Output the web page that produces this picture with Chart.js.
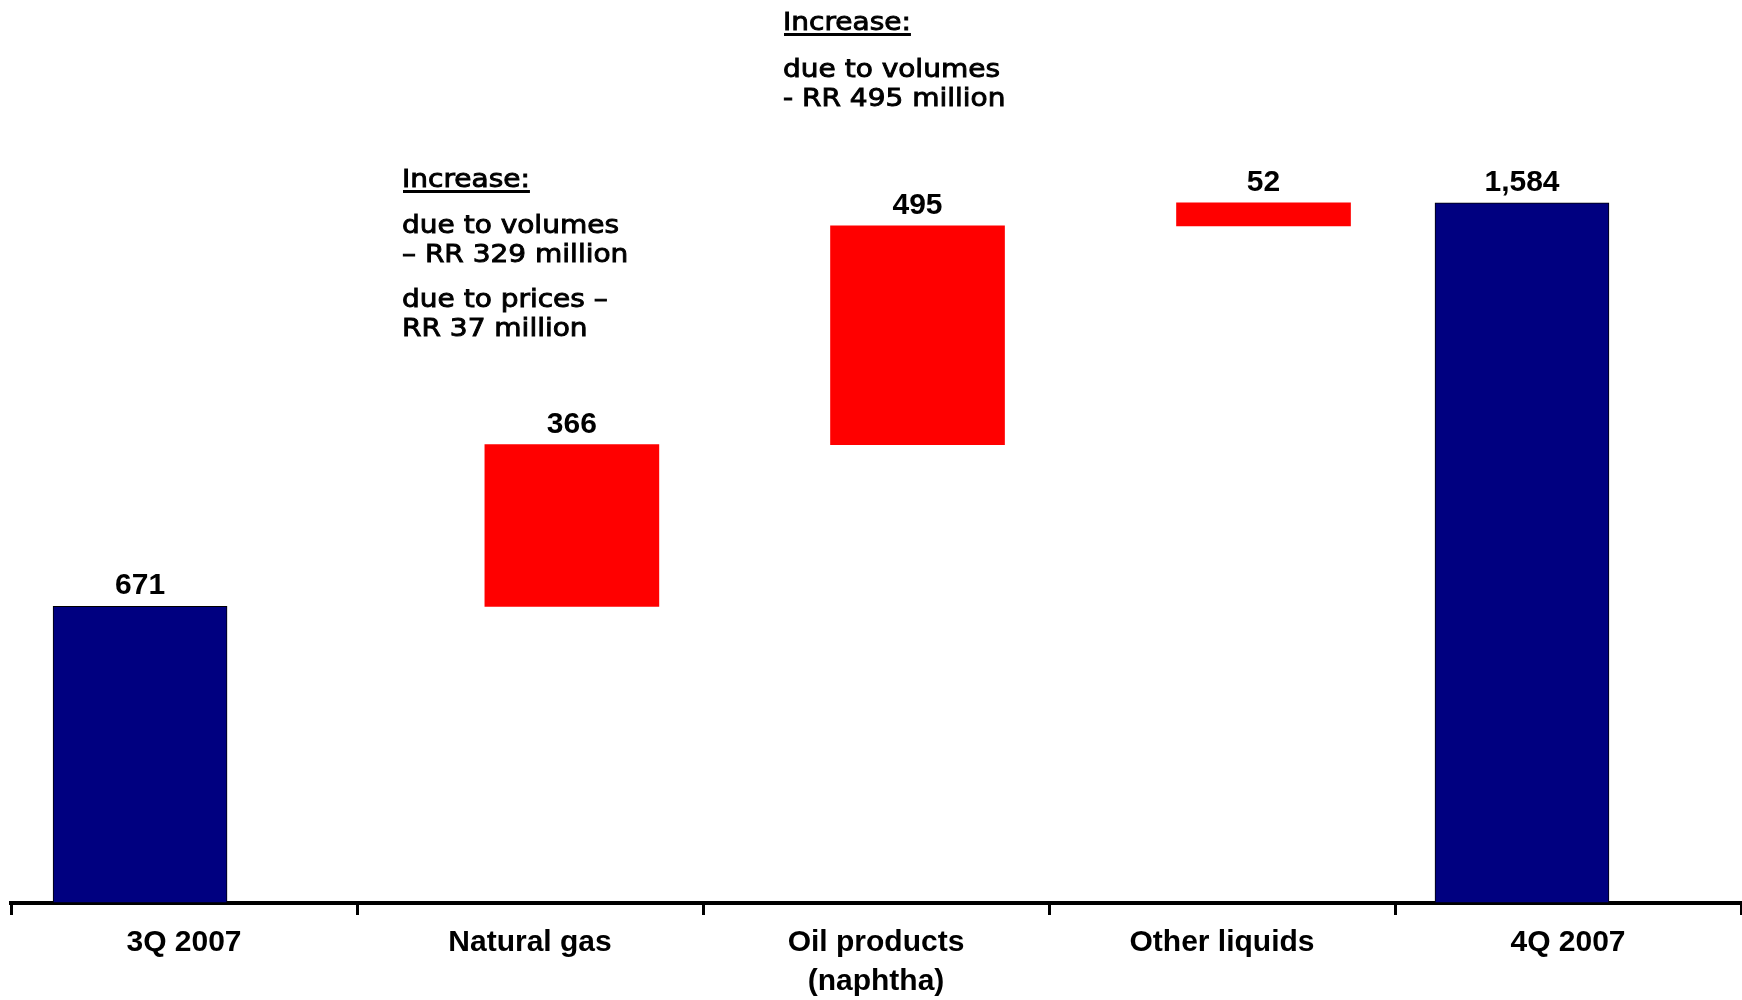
<!DOCTYPE html>
<html>
<head>
<meta charset="utf-8">
<title>Revenue bridge 3Q 2007 – 4Q 2007</title>
<script src="https://cdn.jsdelivr.net/npm/chart.js@4.4.1/dist/chart.umd.min.js"></script>
<style>
  html, body { margin: 0; padding: 0; background: #fff; }
  #wrap { width: 1742px; height: 1000px; position: relative; }
</style>
</head>
<body>
<div id="wrap"><canvas id="bridge"></canvas></div>
<script>
// categories along the bottom axis
const categories = ['3Q 2007', 'Natural gas', ['Oil products', '(naphtha)'], 'Other liquids', '4Q 2007'];
// value of each step, RR million
const values = [671, 366, 495, 52, 1584];
// true = full bar from zero, false = increment stacked on the running total
const isTotal = [true, false, false, false, true];

// side notes
const noteGas = ['due to volumes', '\u2013 RR 329 million'];
const noteGasPrice = ['due to prices \u2013', 'RR 37 million'];
const noteOil = ['due to volumes', '- RR 495 million'];

const NAVY = '#000080';
const RED = '#ff0000';

// floating ranges for the waterfall
let running = 0;
const ranges = values.map((v, i) => {
  if (isTotal[i]) { running = v; return [0, v]; }
  const r = [running, running + v];
  running += v;
  return r;
});

// bars sit a little off the category centres
const barShift = [-0.127, 0.121, 0.12, 0.12, -0.133];

const barData = ranges.map((r, i) => ({ x: i + barShift[i], y: r }));

const fmt = n => n.toLocaleString('en-US');

const labelPlugin = {
  id: 'bridgeLabels',
  afterDatasetsDraw(chart) {
    const ctx = chart.ctx;
    const meta = chart.getDatasetMeta(0);
    ctx.save();
    ctx.fillStyle = '#000';
    ctx.strokeStyle = '#000';
    ctx.textAlign = 'center';
    ctx.textBaseline = 'alphabetic';
    ctx.font = 'bold 30px "Liberation Sans", Arial, sans-serif';
    meta.data.forEach((el, i) => {
      const top = Math.min(el.y, el.base);
      ctx.fillText(fmt(values[i]), el.x, top - 12);
    });

    // notes, in a slightly widened and thickened face
    ctx.textAlign = 'left';
    ctx.font = '25px "DejaVu Sans", sans-serif';
    ctx.lineWidth = 0.9;
    const sx = 1.12;
    const text = (t, x, y) => {
      ctx.save();
      ctx.translate(x, y);
      ctx.scale(sx, 1);
      ctx.fillText(t, 0, 0);
      ctx.strokeText(t, 0, 0);
      ctx.restore();
    };
    const heading = (x, y) => {
      text('Increase:', x, y);
      const w = ctx.measureText('Increase:').width * sx;
      ctx.fillRect(x + 1, y + 3, w - 1, 3);
    };
    const block = (lines, x, y) => {
      lines.forEach((t, k) => text(t, x, y + k * 29));
    };
    heading(402, 187);
    block(noteGas, 402, 233);
    block(noteGasPrice, 402, 307);

    heading(783, 30);
    block(noteOil, 783, 77);
    ctx.restore();
  }
};

new Chart(document.getElementById('bridge'), {
  type: 'bar',
  data: {
    labels: categories,
    datasets: [{
      data: barData,
      xAxisID: 'xb',
      yAxisID: 'y',
      backgroundColor: isTotal.map(t => t ? NAVY : RED),
      borderColor: isTotal.map(t => t ? '#000' : RED),
      borderWidth: isTotal.map(t => t ? 1 : 0),
      borderSkipped: false,
      barThickness: 174,
      grouped: false
    }]
  },
  options: {
    responsive: true,
    maintainAspectRatio: false,
    animation: false,
    layout: { padding: { left: 11, right: 1, top: 19, bottom: 0 } },
    plugins: {
      legend: { display: false },
      tooltip: { enabled: false }
    },
    scales: {
      x: {
        type: 'category',
        offset: true,
        border: { display: true, color: '#000', width: 4 },
        grid: {
          offset: true,
          drawOnChartArea: false,
          drawTicks: true,
          tickLength: 12,
          color: '#000',
          lineWidth: 3
        },
        ticks: {
          color: '#000',
          padding: 8,
          maxRotation: 0,
          autoSkip: false,
          font: { family: '"Liberation Sans", Arial, sans-serif', size: 30, weight: 'bold', lineHeight: 1.3 }
        },
        afterFit: scale => { scale.height = 97; }
      },
      xb: {
        type: 'linear',
        display: false,
        offset: false,
        bounds: 'data',
        grace: 0,
        min: -0.5,
        max: 4.5
      },
      y: {
        display: false,
        min: 0,
        max: 2000
      }
    }
  },
  plugins: [labelPlugin]
});
</script>
</body>
</html>
